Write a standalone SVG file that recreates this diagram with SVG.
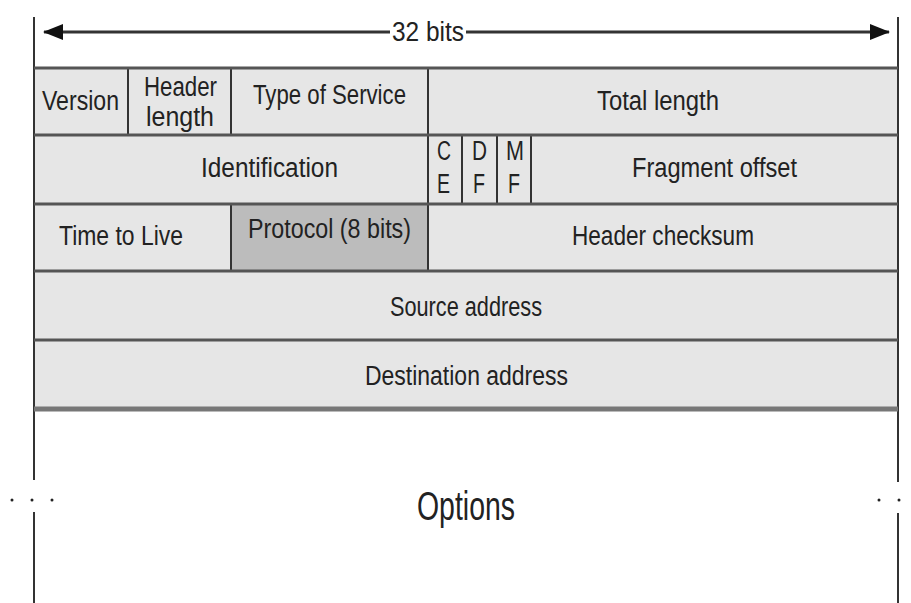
<svg xmlns="http://www.w3.org/2000/svg" width="911" height="603" viewBox="0 0 911 603">
<style>
.cell{fill:#e6e6e6;stroke:#333;stroke-width:2}
.dark{fill:#bcbcbc;stroke:#333;stroke-width:2}
.hline{stroke:#555;stroke-width:3}
.t{font-family:"Liberation Sans",Arial,sans-serif;font-size:27px;fill:#222;text-anchor:start}
.side{stroke:#333;stroke-width:2;fill:none}
.dot{fill:#222}
</style>
<defs>
<marker id="ah" viewBox="0 0 20 16" refX="19" refY="8" markerWidth="20" markerHeight="16" markerUnits="userSpaceOnUse" orient="auto-start-reverse">
<path d="M0,0 L20,8 L0,16 Z" fill="#111"/>
</marker>
</defs>
<rect x="0" y="0" width="911" height="603" fill="#ffffff"/>

<g id="connectors">
<line x1="34" y1="17" x2="34" y2="480" class="side"/>
<line x1="34" y1="512" x2="34" y2="603" class="side"/>
<line x1="898" y1="17" x2="898" y2="482" class="side"/>
<line x1="898" y1="513" x2="898" y2="603" class="side"/>
<line x1="390" y1="32" x2="44" y2="32" stroke="#333" stroke-width="3" marker-end="url(#ah)"/>
<line x1="466" y1="32" x2="889" y2="32" stroke="#333" stroke-width="3" marker-end="url(#ah)"/>
</g>

<g id="width-label">
<text class="t" x="392" y="41" textLength="72" lengthAdjust="spacingAndGlyphs">32 bits</text>
</g>

<g id="version"><rect class="cell" x="34" y="68" width="94" height="67"/>
<text class="t" x="42" y="110" textLength="77" lengthAdjust="spacingAndGlyphs">Version</text></g>
<g id="header-length"><rect class="cell" x="128" y="68" width="103" height="67"/>
<text class="t" x="144" y="96" textLength="73" lengthAdjust="spacingAndGlyphs">Header</text>
<text class="t" x="146" y="126" textLength="68" lengthAdjust="spacingAndGlyphs">length</text></g>
<g id="type-of-service"><rect class="cell" x="231" y="68" width="197" height="67"/>
<text class="t" x="253" y="104" textLength="153" lengthAdjust="spacingAndGlyphs">Type of Service</text></g>
<g id="total-length"><rect class="cell" x="428" y="68" width="470" height="67"/>
<text class="t" x="597" y="110" textLength="122" lengthAdjust="spacingAndGlyphs">Total length</text></g>

<g id="identification"><rect class="cell" x="34" y="135" width="394" height="69"/>
<text class="t" x="201" y="177" textLength="137" lengthAdjust="spacingAndGlyphs">Identification</text></g>
<g id="ce"><rect class="cell" x="428" y="135" width="34" height="69"/>
<text class="t" x="437" y="160" textLength="14" lengthAdjust="spacingAndGlyphs">C</text>
<text class="t" x="437" y="193" textLength="13" lengthAdjust="spacingAndGlyphs">E</text></g>
<g id="df"><rect class="cell" x="462" y="135" width="35" height="69"/>
<text class="t" x="472" y="160" textLength="15" lengthAdjust="spacingAndGlyphs">D</text>
<text class="t" x="473" y="193" textLength="12" lengthAdjust="spacingAndGlyphs">F</text></g>
<g id="mf"><rect class="cell" x="497" y="135" width="34" height="69"/>
<text class="t" x="506" y="160" textLength="18" lengthAdjust="spacingAndGlyphs">M</text>
<text class="t" x="508" y="193" textLength="12" lengthAdjust="spacingAndGlyphs">F</text></g>
<g id="fragment-offset"><rect class="cell" x="531" y="135" width="367" height="69"/>
<text class="t" x="632" y="177" textLength="165" lengthAdjust="spacingAndGlyphs">Fragment offset</text></g>

<g id="time-to-live"><rect class="cell" x="34" y="204" width="197" height="67"/>
<text class="t" x="59" y="245" textLength="124" lengthAdjust="spacingAndGlyphs">Time to Live</text></g>
<g id="protocol"><rect class="dark" x="231" y="204" width="197" height="67"/>
<text class="t" x="248" y="238" textLength="163" lengthAdjust="spacingAndGlyphs">Protocol (8 bits)</text></g>
<g id="header-checksum"><rect class="cell" x="428" y="204" width="470" height="67"/>
<text class="t" x="572" y="245" textLength="182" lengthAdjust="spacingAndGlyphs">Header checksum</text></g>

<g id="source-address"><rect class="cell" x="34" y="271" width="864" height="69"/>
<text class="t" x="390" y="316" textLength="152" lengthAdjust="spacingAndGlyphs">Source address</text></g>
<g id="destination-address"><rect class="cell" x="34" y="340" width="864" height="69"/>
<text class="t" x="365" y="385" textLength="203" lengthAdjust="spacingAndGlyphs">Destination address</text></g>

<g id="row-lines">
<line class="hline" x1="34" y1="68" x2="898" y2="68"/>
<line class="hline" x1="34" y1="135" x2="898" y2="135"/>
<line class="hline" x1="34" y1="204" x2="898" y2="204"/>
<line class="hline" x1="34" y1="271" x2="898" y2="271"/>
<line class="hline" x1="34" y1="340" x2="898" y2="340"/>
<line x1="34" y1="409" x2="898" y2="409" stroke="#777" stroke-width="5"/>
</g>

<g id="options">
<text class="t" x="417" y="520" style="font-size:41px" textLength="98" lengthAdjust="spacingAndGlyphs">Options</text>
<circle class="dot" cx="12" cy="500" r="1.5"/>
<circle class="dot" cx="32" cy="500" r="1.5"/>
<circle class="dot" cx="52" cy="500" r="1.5"/>
<circle class="dot" cx="879" cy="500" r="1.5"/>
<circle class="dot" cx="899" cy="500" r="1.5"/>
</g>
</svg>
